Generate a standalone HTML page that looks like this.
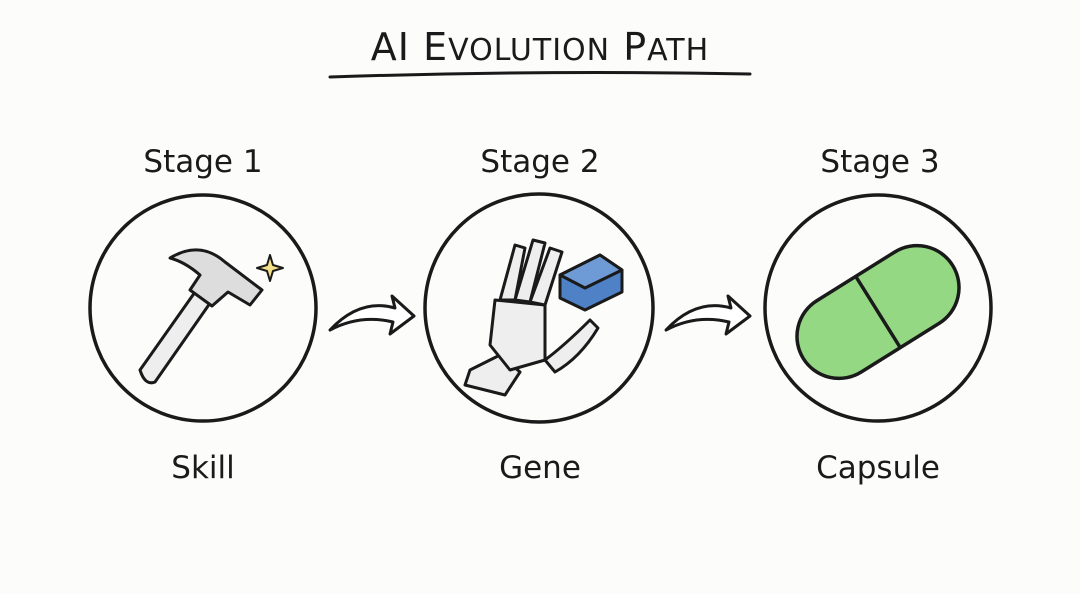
<!DOCTYPE html>
<html><head><style>
body{margin:0;width:1080px;height:589px;background:#fcfcfb;overflow:hidden}
text{font-family:"Comic Sans MS","DejaVu Sans","Liberation Sans",sans-serif;fill:#1a1a1a}
</style></head><body>
<svg width="1080" height="589" viewBox="0 0 1080 589" xmlns="http://www.w3.org/2000/svg">
<text x="540" y="60" text-anchor="middle" font-size="38" letter-spacing="1">AI E<tspan font-size="30">VOLUTION</tspan> P<tspan font-size="30">ATH</tspan></text>
<path d="M330 77 Q540 70 750 74" stroke="#1a1a1a" stroke-width="3" fill="none" stroke-linecap="round"/>
<g font-size="31" text-anchor="middle">
<text x="203" y="172">Stage 1</text>
<text x="540" y="172">Stage 2</text>
<text x="880" y="172">Stage 3</text>
<text x="203" y="478">Skill</text>
<text x="540" y="478">Gene</text>
<text x="878" y="478">Capsule</text>
</g>
<g fill="none" stroke="#1a1a1a" stroke-width="3.5">
<circle cx="203" cy="308" r="113"/>
<circle cx="539" cy="308" r="114"/>
<circle cx="878" cy="308" r="113"/>
</g>
<g fill="#fff" stroke="#1a1a1a" stroke-width="3" stroke-linejoin="round">
<path d="M330 330 Q360 298 395 308 L392 296 L414 316 L390 334 L393 322 Q360 314 330 330Z"/>
<path d="M666 330 Q696 298 731 308 L728 296 L750 316 L726 334 L729 322 Q696 314 666 330Z"/>
</g>
<g stroke="#1a1a1a" stroke-width="3" stroke-linejoin="round">
<path d="M140 370 L200 285 L215 296 L155 382 Q145 386 140 370Z" fill="#eee"/>
<path d="M170 258 Q200 240 225 262 L262 290 L250 305 L228 292 L212 306 L190 290 L200 275 Q185 262 170 258Z" fill="#ddd"/>
<path d="M270 255 l3 10 10 3 -10 3 -3 10 -3 -10 -10 -3 10 -3z" fill="#f5e08a" stroke-width="2"/>
</g>
<g stroke="#1a1a1a" stroke-width="3" fill="#eee" stroke-linejoin="round">
<path d="M470 370 L500 355 L520 372 L505 395 L465 385Z"/>
<path d="M495 300 L545 305 L545 360 L510 370 L490 345Z"/>
<path d="M500 300 L515 245 L525 248 L515 300Z M515 300 L533 240 L545 243 L530 302Z M530 302 L550 248 L562 252 L545 305Z"/>
<path d="M545 360 Q565 345 590 320 L598 328 Q580 358 555 372Z"/>
</g>
<g stroke="#1a1a1a" stroke-width="3" stroke-linejoin="round">
<path d="M560 275 L600 255 L622 270 L622 292 L585 310 L560 298Z" fill="#4f81c7"/>
<path d="M560 275 L600 255 L622 270 L585 288Z" fill="#6e9ad6"/>
</g>
<g transform="rotate(-32 878 312)" stroke="#1a1a1a" stroke-width="3.5">
<rect x="790" y="270" width="176" height="84" rx="42" fill="#94d884"/>
<line x1="878" y1="270" x2="878" y2="354"/>
</g>
</svg>
</body></html>
